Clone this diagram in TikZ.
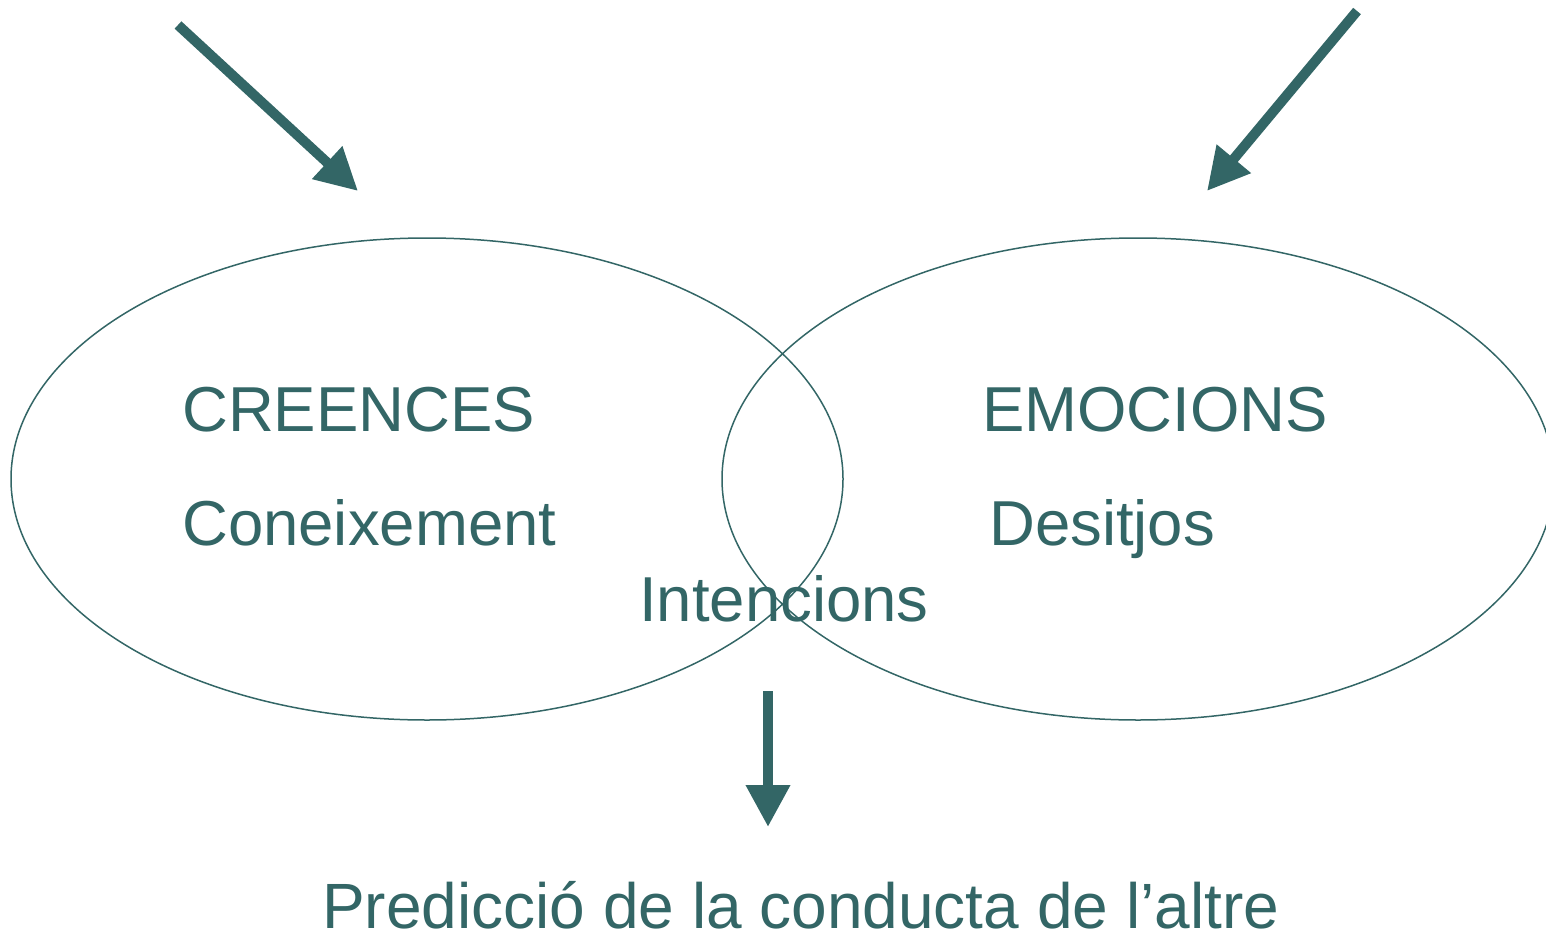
\documentclass[tikz,border=0pt]{standalone}
\usepackage{fontspec}
\setmainfont{Liberation Sans}
\usetikzlibrary{shapes.geometric,arrows.meta}
\definecolor{teal1}{RGB}{51,102,102}
\tikzset{
  circ/.style={ellipse,draw=teal1,line width=1.5pt,minimum width=832pt,minimum height=482pt,inner sep=0pt},
  lbl/.style={text=teal1,font=\fontsize{63.5}{70}\selectfont,anchor=base west,inner sep=0pt},
  bigarrow/.style={draw=teal1,line width=10pt,-{Triangle[length=42pt,width=42pt]}}
}
\begin{document}
\begin{tikzpicture}[x=1pt,y=-1pt]
\useasboundingbox (0,0) rectangle (1546,939);
\node[circ] (left) at (427,479) {};
\node[circ] (right) at (1138,479) {};
\node[lbl] (cre) at (182,431) {CREENCES};
\node[lbl] (emo) at (982,431) {EMOCIONS};
\node[lbl] (con) at (182,545) {Coneixement};
\node[lbl] (des) at (989,545) {Desitjos};
\node[lbl] (int) at (639,621) {Intencions};
\node[lbl,font=\fontsize{64}{70}\selectfont] (pred) at (322,928) {Predicció de la conducta de l’altre};
\coordinate (a1s) at (178,25);
\coordinate (a1e) at (358,191);
\coordinate (a2s) at (1357,11);
\coordinate (a2e) at (1207,191);
\coordinate (a3s) at (768,691);
\coordinate (a3e) at (768,827);
\draw[bigarrow] (a1s) -- (a1e);
\draw[bigarrow] (a2s) -- (a2e);
\draw[bigarrow] (a3s) -- (a3e);
\end{tikzpicture}
\end{document}
